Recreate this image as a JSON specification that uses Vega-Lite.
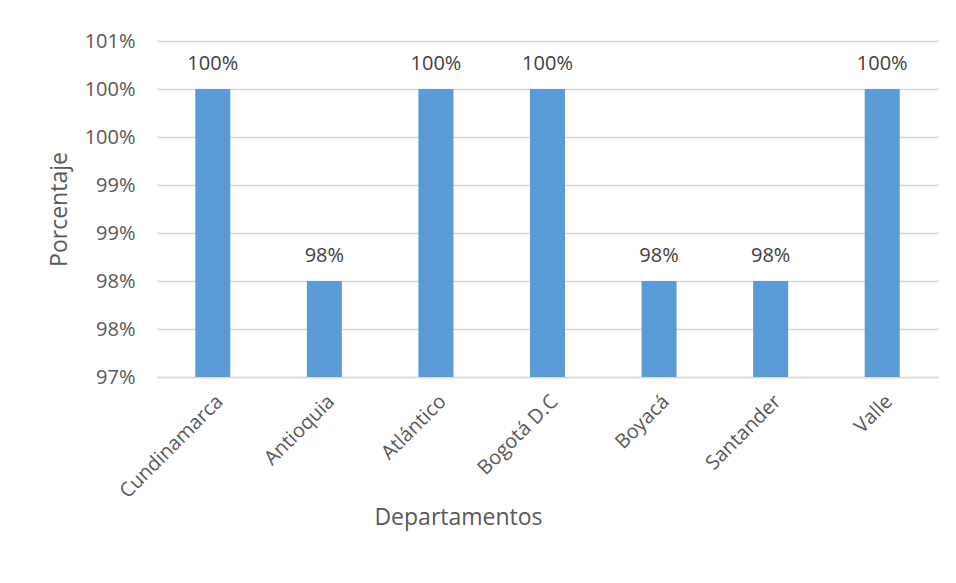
{
  "$schema": "https://vega.github.io/schema/vega-lite/v6.json",
  "width": 781,
  "height": 336,
  "autosize": {"type": "none"},
  "padding": {"left": 157, "top": 41, "right": 18, "bottom": 206},
  "background": "white",
  "config": {
    "view": {"stroke": null},
    "font": "Open Sans",
    "axis": {"labelColor": "#595959", "titleColor": "#595959", "labelFont": "Open Sans", "titleFont": "Open Sans", "titleFontWeight": "normal"}
  },
  "data": {
    "values": [
      {"Departamento": "Cundinamarca", "Porcentaje": 1.0},
      {"Departamento": "Antioquia", "Porcentaje": 0.98},
      {"Departamento": "Atlántico", "Porcentaje": 1.0},
      {"Departamento": "Bogotá D.C", "Porcentaje": 1.0},
      {"Departamento": "Boyacá", "Porcentaje": 0.98},
      {"Departamento": "Santander", "Porcentaje": 0.98},
      {"Departamento": "Valle", "Porcentaje": 1.0}
    ]
  },
  "encoding": {
    "x": {
      "field": "Departamento",
      "type": "nominal",
      "sort": null,
      "scale": {"paddingInner": 0.686, "paddingOuter": 0.343},
      "axis": {
        "title": "Departamentos",
        "titleFontSize": 23,
        "titleX": 301,
        "titleY": 140,
        "titleBaseline": "middle",
        "titleAnchor": "middle",
        "labelAngle": -45,
        "labelFontSize": 20,
        "labelPadding": 14,
        "ticks": false,
        "domainColor": "#d9d9d9",
        "domainWidth": 1.3,
        "grid": false
      }
    },
    "y": {
      "field": "Porcentaje",
      "type": "quantitative",
      "scale": {"domain": [0.97, 1.005], "nice": false, "zero": false},
      "axis": {
        "title": "Porcentaje",
        "titleFontSize": 23,
        "titleX": -98,
        "titleY": 168,
        "titleBaseline": "middle",
        "titleAnchor": "middle",
        "values": [0.97, 0.975, 0.98, 0.985, 0.99, 0.995, 1.0, 1.005],
        "labelExpr": "format(datum.value + 0.000001, '.0%')",
        "labelFontSize": 20,
        "labelPadding": 22,
        "ticks": false,
        "domain": false,
        "gridColor": "#d9d9d9",
        "gridWidth": 1.3
      }
    }
  },
  "layer": [
    {
      "mark": {"type": "bar", "color": "#5b9bd5"},
      "encoding": {"y2": {"datum": 0.97}}
    },
    {
      "mark": {"type": "text", "baseline": "middle", "dy": -25, "fontSize": 20, "color": "#404040"},
      "encoding": {"text": {"field": "Porcentaje", "type": "quantitative", "format": ".0%"}}
    }
  ]
}
